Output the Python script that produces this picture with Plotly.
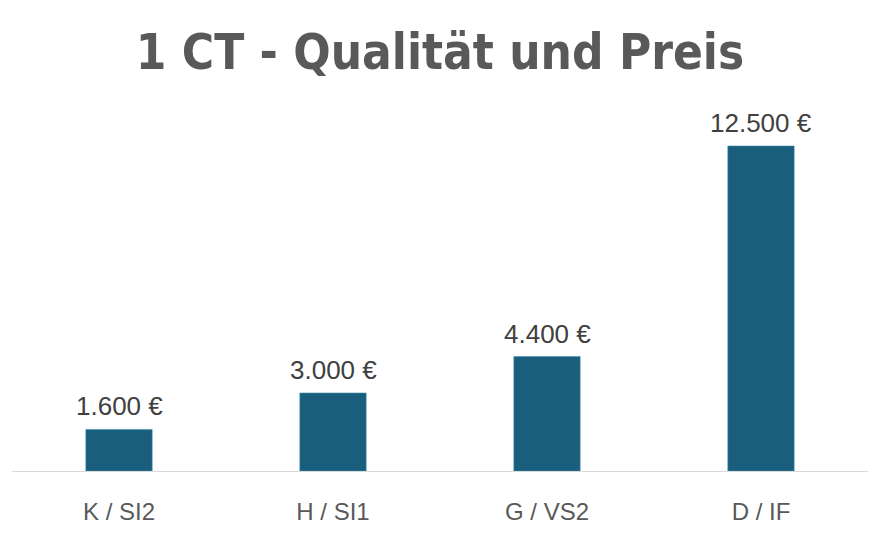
import plotly.graph_objects as go

# Kategorien (Farbe / Reinheit) und Preise in Euro
qualitaet = ["K / SI2", "H / SI1", "G / VS2", "D / IF"]
preis = [1600, 3000, 4400, 12500]

bar_color = "#1a5e7d"

fig = go.Figure()
fig.add_trace(go.Bar(
    x=qualitaet,
    y=preis,
    marker=dict(color=bar_color, line=dict(color="#3f8fb0", width=0.6)),
    width=0.31,
    hoverinfo="skip",
))

# Wertbeschriftungen über den Balken
for q, p in zip(qualitaet, preis):
    fig.add_annotation(
        x=q, y=p, text=f"{p:,.0f} €".replace(",", "."),
        showarrow=False, yanchor="bottom", yshift=6,
        font=dict(family="Liberation Sans, Arial", size=26, color="#404040"),
    )

# the page body adds an 8px margin, so margins are shifted to compensate
fig.update_layout(
    width=880, height=540,
    paper_bgcolor="white", plot_bgcolor="white",
    margin=dict(l=4, r=20, t=100, b=77),
    title=dict(
        text="<b>1 CT - Qualität und Preis</b>",
        x=0.5, xref="paper", xanchor="center", y=0.918, yanchor="middle",
        font=dict(family="DejaVu Sans Condensed, Roboto, Arial", size=49, color="#595959"),
    ),
    showlegend=False,
)
fig.update_xaxes(
    showline=True, linecolor="#d9d9d9", linewidth=1,
    ticks="", ticklabelstandoff=19,
    tickfont=dict(family="Liberation Sans, Arial", size=24, color="#595959"),
)
fig.update_yaxes(visible=False, range=[0, 13962], showgrid=False, zeroline=False)

fig.write_html("out.html")
